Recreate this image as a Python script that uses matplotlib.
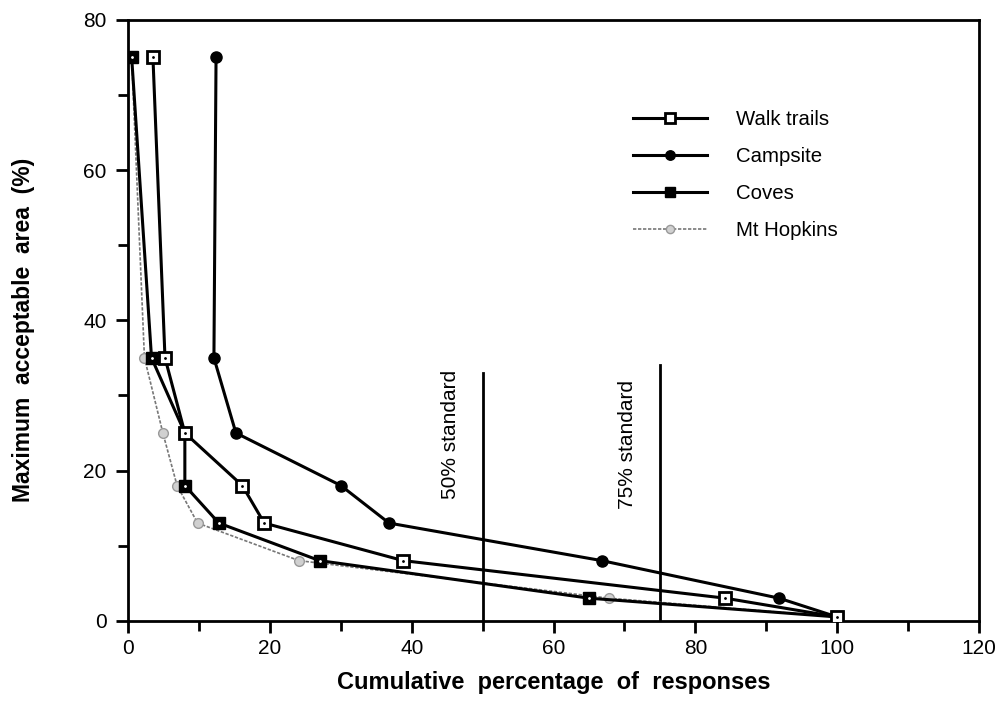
import matplotlib.pyplot as plt
from matplotlib.ticker import MultipleLocator

plt.rcParams['font.family'] = ['Liberation Sans', 'DejaVu Sans']

# y levels used by every series (maximum acceptable area, %)
walk_x = [3.5, 5.2, 8.0, 16.1, 19.2, 38.8, 84.2, 100]
walk_y = [75, 35, 25, 18, 13, 8, 3, 0.5]

camp_x = [12.4, 12.1, 15.2, 30.0, 36.8, 66.8, 91.8, 100]
camp_y = [75, 35, 25, 18, 13, 8, 3, 0.5]

coves_x = [0.5, 3.3, 8.0, 8.0, 12.8, 27.0, 65.0, 100]
coves_y = [75, 35, 25, 18, 13, 8, 3, 0.5]

hop_x = [0.5, 2.3, 4.9, 6.9, 9.8, 24.1, 67.8, 100]
hop_y = [75, 35, 25, 18, 13, 8, 3, 0.5]

standards = [50, 75]
standard_tops = [33.0, 34.0]
standard_labels = ['50% standard', '75% standard']

fig = plt.figure(figsize=(10.01, 7.11), dpi=100)
ax = fig.add_axes([0.128, 0.127, 0.850, 0.845])

ax.plot(hop_x, hop_y, color='#777777', lw=1.2, ls=(0, (2, 1)), marker='o',
        ms=7, mfc='#d0d0d0', mec='#999999', mew=1.0, label='Mt Hopkins', zorder=3)
ax.plot(coves_x, coves_y, color='black', lw=2.2, marker='s', ms=8,
        mfc='black', mec='black', label='Coves', zorder=4)
ax.plot(coves_x, coves_y, ls='none', marker='.', ms=2, color='white', zorder=5)
ax.plot(camp_x, camp_y, color='black', lw=2.2, marker='o', ms=8,
        mfc='black', mec='black', label='Campsite', zorder=4)
ax.plot(walk_x, walk_y, color='black', lw=2.2, marker='s', ms=8,
        mfc='white', mec='black', mew=2.0, label='Walk trails', zorder=6)
ax.plot(walk_x, walk_y, ls='none', marker='.', ms=2, color='black', zorder=7)

text_tops = [33.4, 32.1]
for xs, top, lab, tt in zip(standards, standard_tops, standard_labels, text_tops):
    ax.plot([xs, xs], [0, top], color='black', lw=2.0, zorder=2)
    ax.text(xs - 4.6, tt, lab, rotation=90, ha='center', va='top',
            fontsize=15)

ax.set_xlim(0, 120)
ax.set_ylim(0, 80)
ax.xaxis.set_major_locator(MultipleLocator(20))
ax.xaxis.set_minor_locator(MultipleLocator(10))
ax.yaxis.set_major_locator(MultipleLocator(20))
ax.yaxis.set_minor_locator(MultipleLocator(10))
ax.tick_params(which='both', direction='out', width=2, top=False, right=False,
               labelsize=15)
ax.tick_params(which='major', length=8.5)
ax.tick_params(which='minor', length=7)
ax.tick_params(axis='x', which='major', pad=5)
ax.tick_params(axis='y', which='major', pad=7)
for s in ax.spines.values():
    s.set_linewidth(2)

ax.set_xlabel('Cumulative  percentage  of  responses', fontsize=17,
              fontweight='bold')
ax.set_ylabel('Maximum  acceptable  area  (%)', fontsize=16.5,
              fontweight='bold')
ax.xaxis.set_label_coords(0.5, -0.083)
ax.yaxis.set_label_coords(-0.109, 0.484)

h, l = ax.get_legend_handles_labels()
order = [3, 2, 1, 0]
ax.legend([h[i] for i in order], [l[i] for i in order], frameon=False,
          loc='upper left', bbox_to_anchor=(0.572, 0.880), fontsize=14.7,
          handlelength=3.6, handletextpad=1.45, labelspacing=0.87,
          markerscale=0.85)

fig.savefig('out.png', dpi=100)
